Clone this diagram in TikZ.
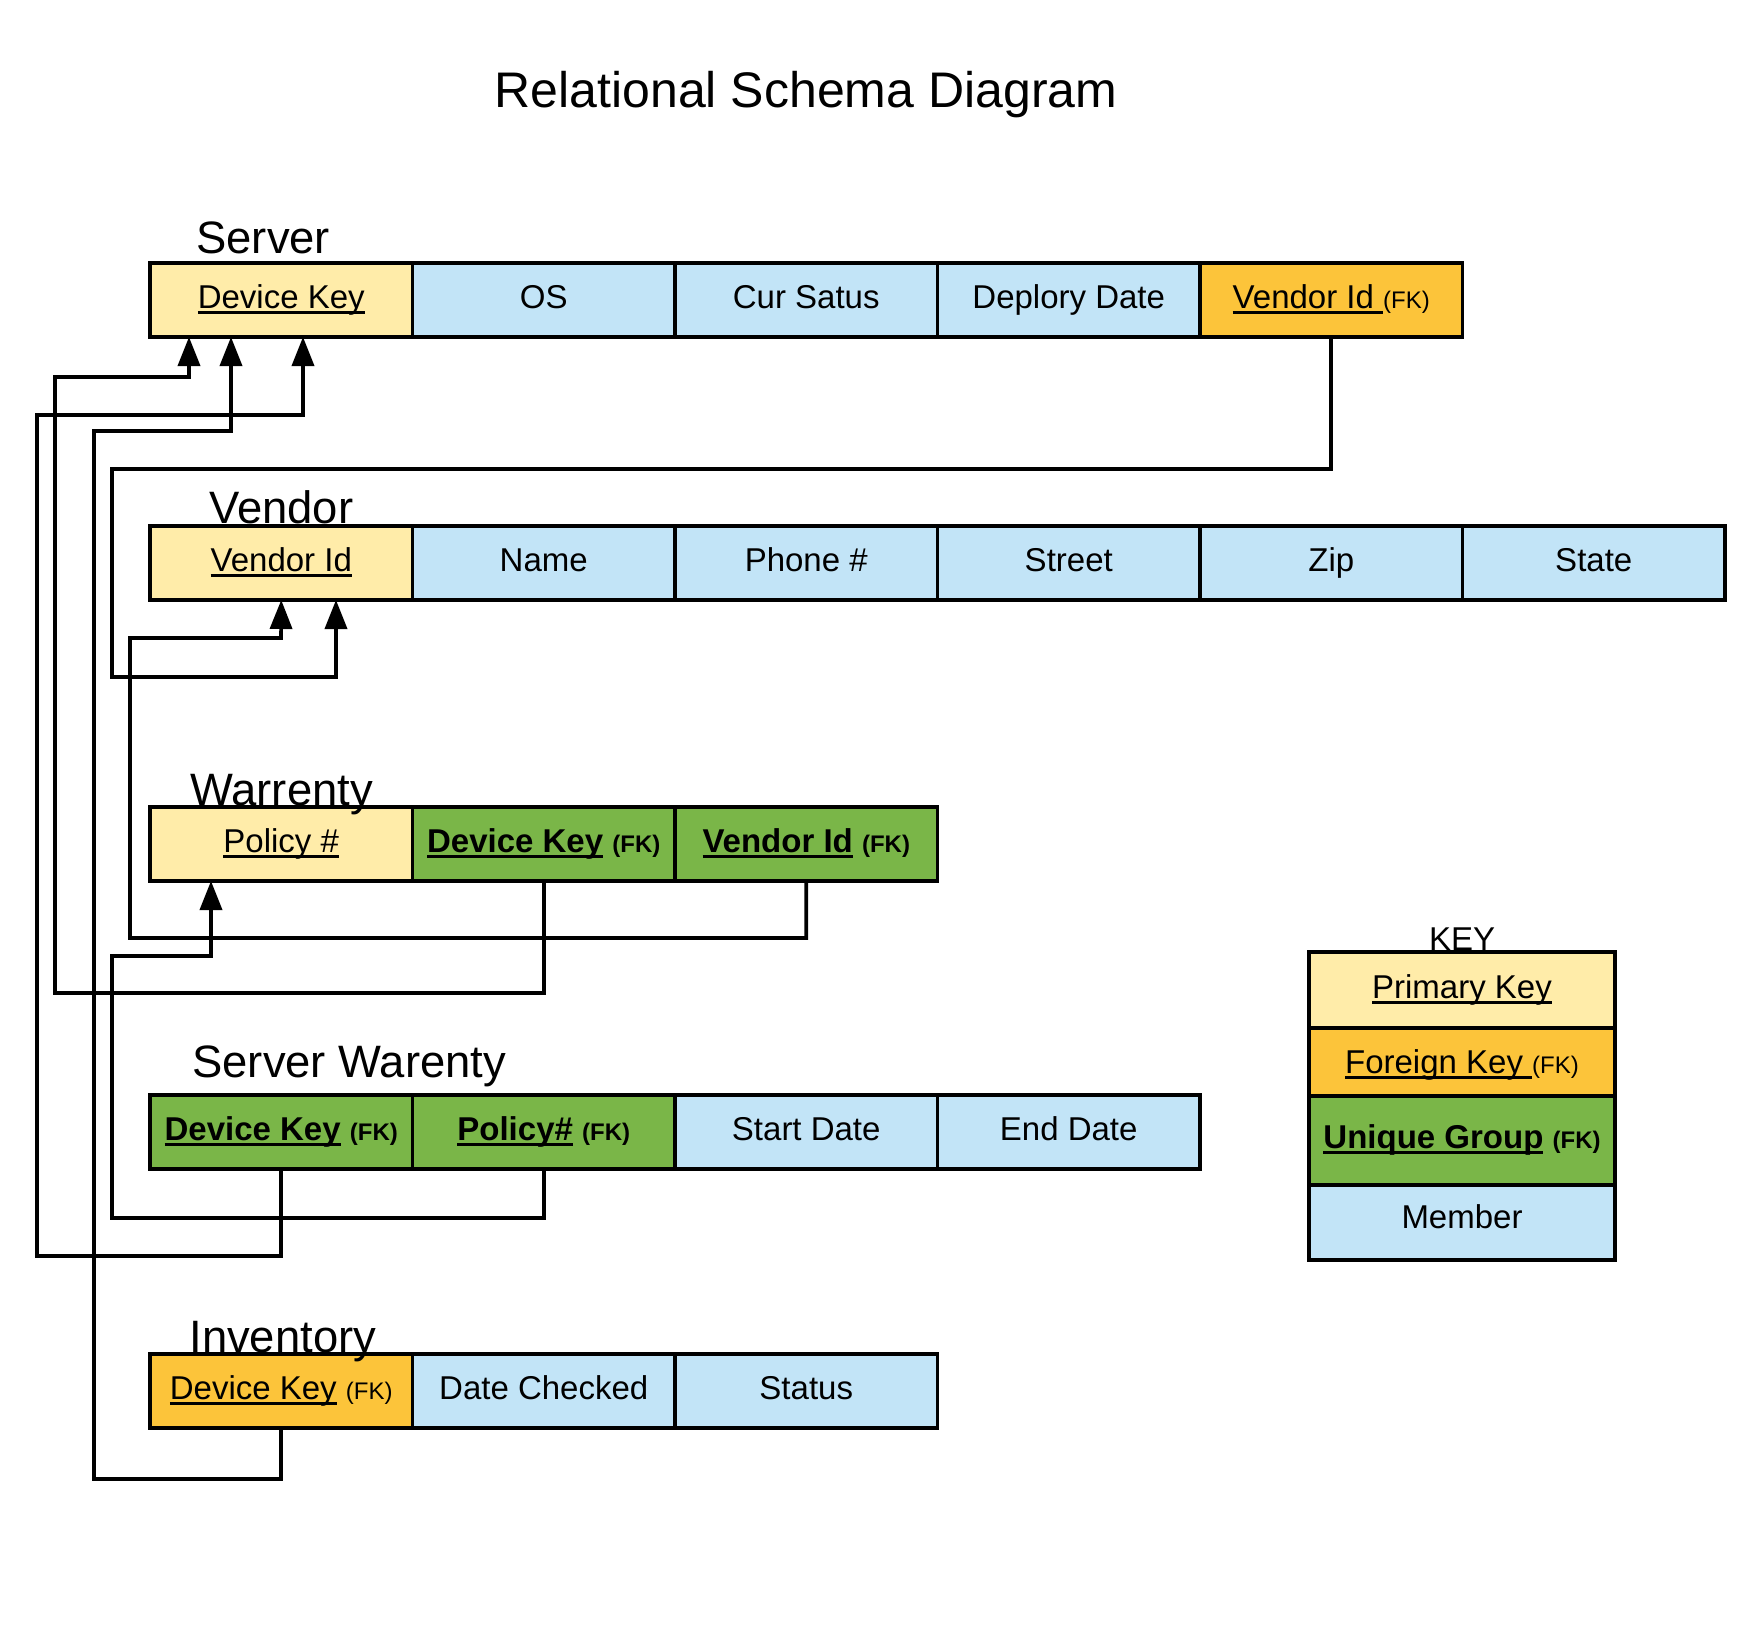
\documentclass[tikz,border=0pt]{standalone}
\usepackage{fontspec}
\setmainfont{Liberation Sans}
\usetikzlibrary{positioning,arrows.meta}
\definecolor{pkyellow}{HTML}{FFECA9}
\definecolor{fkorange}{HTML}{FCC43A}
\definecolor{uggreen}{HTML}{7AB648}
\definecolor{mbblue}{HTML}{C2E4F7}
\newcommand{\cellfont}{\fontsize{16.5}{19}\selectfont}
\newcommand{\tblfont}{\fontsize{22.7}{26}\selectfont}
\newcommand{\fk}{{\fontsize{12}{14}\selectfont(FK)}}
\newcommand{\uln}[1]{\leavevmode\setbox0\hbox{#1}\rlap{\rule[-2.75pt]{\wd0}{1.2pt}}\box0\relax}

\begin{document}
\begin{tikzpicture}[x=0.5pt,y=-0.5pt,
    cell/.style={draw,line width=1.75pt,minimum width=131.25pt,inner sep=0pt,outer sep=0pt,
      text height=22.5pt,text depth=14.5pt,font=\cellfont},
    pk/.style={cell,fill=pkyellow},
    fkey/.style={cell,fill=fkorange},
    ug/.style={cell,fill=uggreen},
    mb/.style={cell,fill=mbblue},
    tbl/.style={anchor=base west,inner sep=0pt,font=\tblfont},
    link/.style={line width=1.8pt},
    ref/.style={link,-{Triangle[width=11pt,length=14.5pt]}}]
    \useasboundingbox (0,0) rectangle (1751,1628);

    \node (title) [anchor=base,inner sep=0pt,font=\fontsize{25}{30}\selectfont] at (806,107) {Relational Schema Diagram};

    \node (sv1) [pk,anchor=north west] at (150,263) {\uln{Device Key}};
    \node (sv2) [mb,right=0pt of sv1] {OS};
    \node (sv3) [mb,right=0pt of sv2] {Cur Satus};
    \node (sv4) [mb,right=0pt of sv3] {Deplory Date};
    \node (sv5) [fkey,right=0pt of sv4] {\uln{Vendor Id }\fk};

    \node (vd1) [pk,anchor=north west] at (150,526) {\uln{Vendor Id}};
    \node (vd2) [mb,right=0pt of vd1] {Name};
    \node (vd3) [mb,right=0pt of vd2] {Phone \#};
    \node (vd4) [mb,right=0pt of vd3] {Street};
    \node (vd5) [mb,right=0pt of vd4] {Zip};
    \node (vd6) [mb,right=0pt of vd5] {State};

    \node (wr1) [pk,anchor=north west] at (150,807) {\uln{Policy \#}};
    \node (wr2) [ug,right=0pt of wr1] {\textbf{\uln{Device Key} \fk}};
    \node (wr3) [ug,right=0pt of wr2] {\textbf{\uln{Vendor Id} \fk}};

    \node (sw1) [ug,anchor=north west] at (150,1095) {\textbf{\uln{Device Key} \fk}};
    \node (sw2) [ug,right=0pt of sw1] {\textbf{\uln{Policy\#} \fk}};
    \node (sw3) [mb,right=0pt of sw2] {Start Date};
    \node (sw4) [mb,right=0pt of sw3] {End Date};

    \node (iv1) [fkey,anchor=north west] at (150,1354) {\uln{Device Key} \fk};
    \node (iv2) [mb,right=0pt of iv1] {Date Checked};
    \node (iv3) [mb,right=0pt of iv2] {Status};

    \node (k1) [pk,anchor=north west,minimum width=153pt,text height=23pt,text depth=15pt] at (1309,952) {\uln{Primary Key}};
    \node (k2) [fkey,below=0pt of k1,minimum width=153pt,text height=22.5pt,text depth=11.5pt] {\uln{Foreign Key }\fk};
    \node (k3) [ug,below=0pt of k2,minimum width=153pt,text height=26pt,text depth=18.5pt] {\textbf{\uln{Unique Group} \fk}};
    \node (k4) [mb,below=0pt of k3,minimum width=153pt,text height=21.5pt,text depth=16pt] {Member};

    \draw[ref] (sv5.south) |- (112,469) |- (336,677) -- (336,0 |- vd1.south);
    \draw[ref] (wr3.south) |- (130,938) |- (281,638) -- (vd1.south);
    \draw[ref] (wr2.south) |- (55,993) |- (189,377) -- (189,0 |- sv1.south);
    \draw[ref] (sw2.south) |- (112,1218) |- (211,956) -- (211,0 |- wr1.south);
    \draw[ref] (sw1.south) |- (37,1256) |- (303,415) -- (303,0 |- sv1.south);
    \draw[ref] (iv1.south) |- (94,1479) |- (231,431) -- (231,0 |- sv1.south);

    \node (svl) [tbl] at (196,253) {Server};
    \node (vdl) [tbl] at (209,523) {Vendor};
    \node (wrl) [tbl] at (190,805) {Warrenty};
    \node (swl) [tbl] at (192,1077) {Server Warenty};
    \node (ivl) [tbl] at (189,1352) {Inventory};
    \node (keyl) [anchor=base,inner sep=0pt,font=\cellfont] at (1462,950) {KEY};
  \end{tikzpicture}
\end{document}
